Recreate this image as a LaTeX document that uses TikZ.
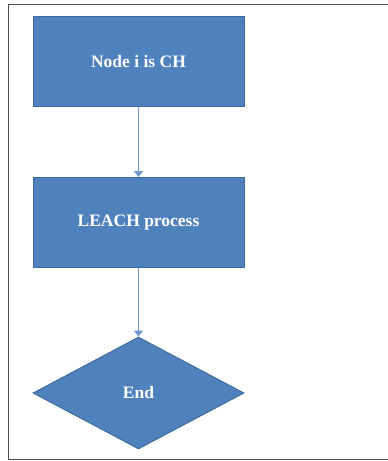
\documentclass[tikz,border=0pt]{standalone}
\usepackage{fontspec}
\setmainfont{Liberation Serif}
\usetikzlibrary{shapes.geometric,arrows.meta}
\definecolor{boxfill}{HTML}{4F81BD}
\definecolor{boxline}{HTML}{3B6A9E}
\definecolor{arrowc}{HTML}{6F9AD0}
\definecolor{framec}{HTML}{505050}
\begin{document}
\begin{tikzpicture}[x=1pt,y=-1pt,
  labelfont/.style={text=white,font=\fontsize{17.5}{20}\selectfont\bfseries},
  procbox/.style={rectangle,draw=boxline,fill=boxfill,line width=0.9pt,minimum width=211pt,minimum height=90pt,inner sep=0pt,labelfont},
  endbox/.style={diamond,draw=boxline,fill=boxfill,line width=0.9pt,minimum width=211pt,minimum height=112pt,inner sep=0pt,aspect=1.88,labelfont},
  conn/.style={draw=arrowc,line width=1.8pt,-{Triangle[width=9pt,length=6pt]}}]
\useasboundingbox (0,0) rectangle (388,461);
\draw[framec,line width=1.3pt] (388,4.5) -- (8.5,4.5) -- (8.5,459.5) -- (388,459.5);
\node[procbox] (ch) at (138.5,61.5) {Node i is CH};
\node[procbox] (leach) at (138.5,222.5) {LEACH process};
\node[endbox] (end) at (138.5,393) {End};
\draw[conn] (ch.south) -- (leach.north);
\draw[conn] (leach.south) -- (end.north);
\end{tikzpicture}
\end{document}
